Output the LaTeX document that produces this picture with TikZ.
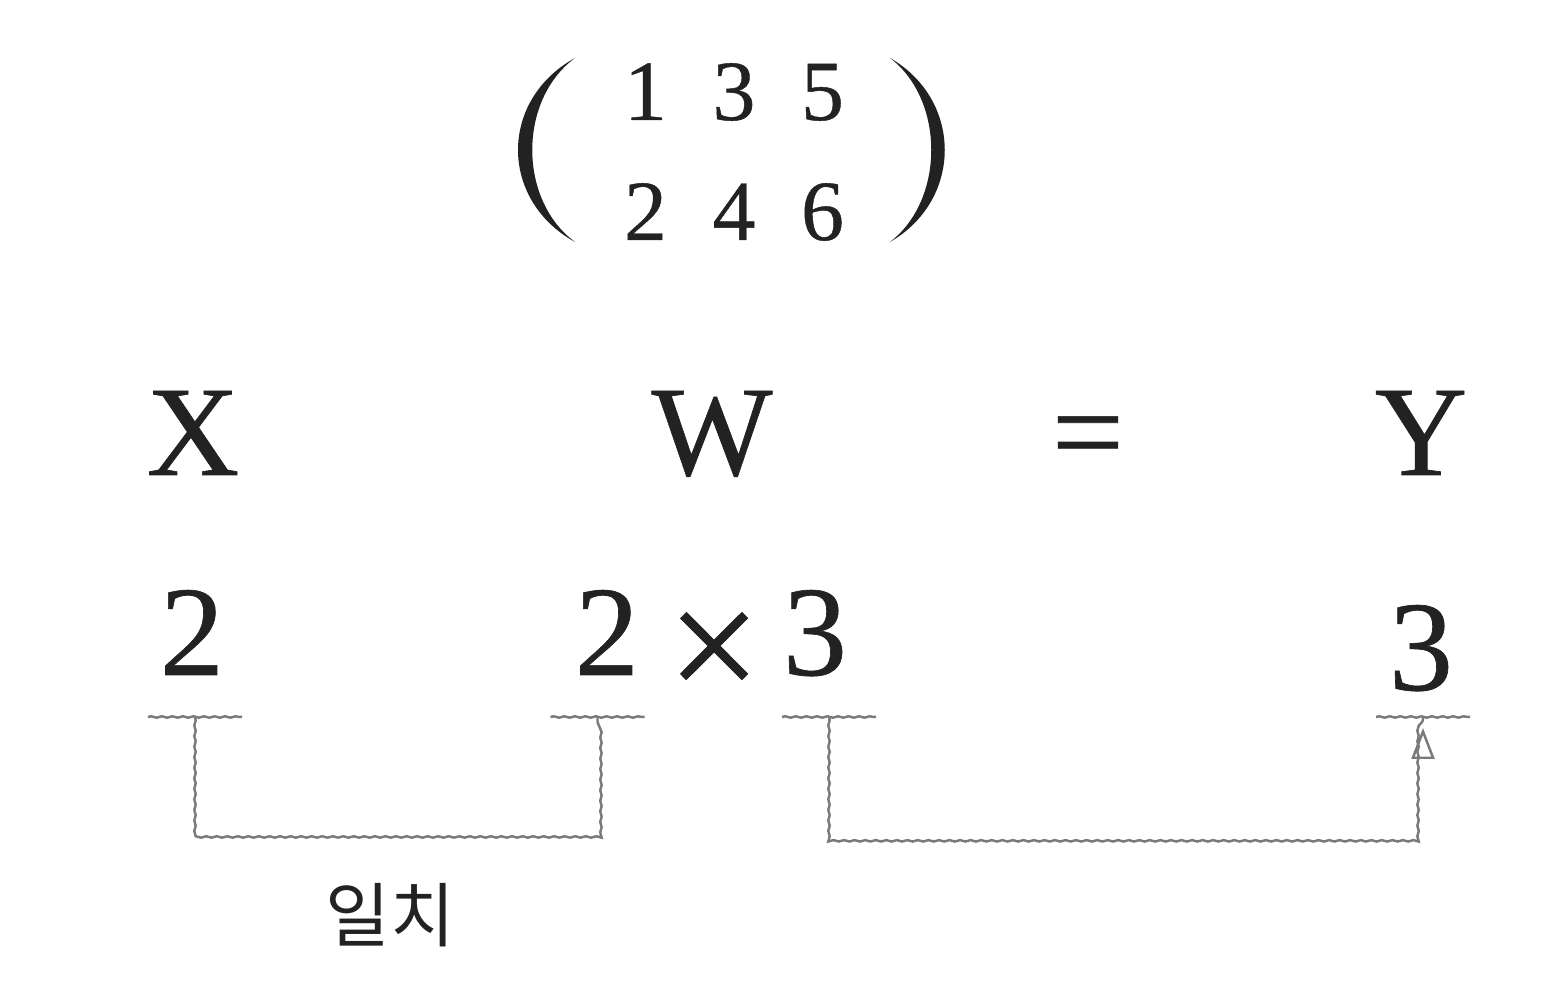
\documentclass[tikz,border=0pt]{standalone}
\usepackage{fontspec}
\setmainfont{Liberation Serif}[FakeBold=0.5]
\newfontfamily\krfont{Noto Sans CJK KR}
\usetikzlibrary{calc, arrows.meta, decorations.pathmorphing, decorations.markings}
\definecolor{ink}{HTML}{222222}
\definecolor{wire}{HTML}{7A7A7A}
\tikzset{
  entry/.style={anchor=base, inner sep=0pt, text=ink, font=\fontsize{24.4}{28}\selectfont},
  sym/.style={anchor=base, inner sep=0pt, text=ink, font=\fontsize{36.5}{40}\selectfont},
  wiggly/.style={draw=wire, line width=0.7pt, decorate,
    decoration={snake, amplitude=0.2pt, segment length=3pt}},
  tipmark/.style={postaction={decorate, decoration={markings,
    mark=at position -0.11cm with {\arrow[wire, line width=0.7pt]{Triangle[open, length=0.31cm, width=0.23cm]}}}}}
}

\begin{document}
\begin{tikzpicture}
    \useasboundingbox (0,0) rectangle (15.58,10);

    % the matrix
    \foreach \v [count=\i] in {1,3,5}
        \node[entry] (top\i) at ({5.57+0.885*\i},8.80) {\v};
    \foreach \v [count=\i] in {2,4,6}
        \node[entry] (bot\i) at ({5.57+0.885*\i},7.60) {\v};

    \fill[ink] (5.75,9.42) .. controls (4.99,9.0) and (4.99,8.0) .. (5.75,7.58)
        .. controls (5.18,8.0) and (5.18,9.0) .. cycle;
    \fill[ink] (8.90,9.42) .. controls (9.63,9.0) and (9.63,8.0) .. (8.90,7.58)
        .. controls (9.45,8.0) and (9.45,9.0) .. cycle;

    % the equation
    \node[sym] (X) at (1.93,5.25) {X};
    \node[sym] (W) at (7.12,5.25) {W};
    \node[sym] (eq) at (10.88,5.25) {=};
    \node[sym] (Y) at (14.21,5.25) {Y};

    \node[sym] (xs) at (1.92,3.25) {2};
    \node[sym] (wr) at (6.07,3.25) {2};
    \node[sym, font=\fontsize{47}{50}\selectfont] (times) at (7.14,2.99) {×};
    \node[sym] (wc) at (8.15,3.25) {3};
    \node[sym] (ys) at (14.21,3.10) {3};

    % underlines and brackets
    \foreach \n/\x in {u1/1.95, u2/5.975, u3/8.29, u4/14.23} {
        \coordinate (\n) at (\x,2.83);
        \draw[wiggly] ($(\n)+(-0.47,0)$) -- ($(\n)+(0.47,0)$);
    }
    \coordinate (b1) at (0,1.65);
    \coordinate (b2) at (0,1.62);

    \draw[wiggly] (u1) -- (u1 |- b1) -| (u2);
    \draw[wiggly] (u3) -- (u3 |- b2) -| (u4);
    \path[tipmark] (u4 |- b2) -- (u4);

    \node[text=ink, font=\krfont\fontsize{20}{24}\selectfont] (match) at (3.90,0.85) {일치};
\end{tikzpicture}
\end{document}
